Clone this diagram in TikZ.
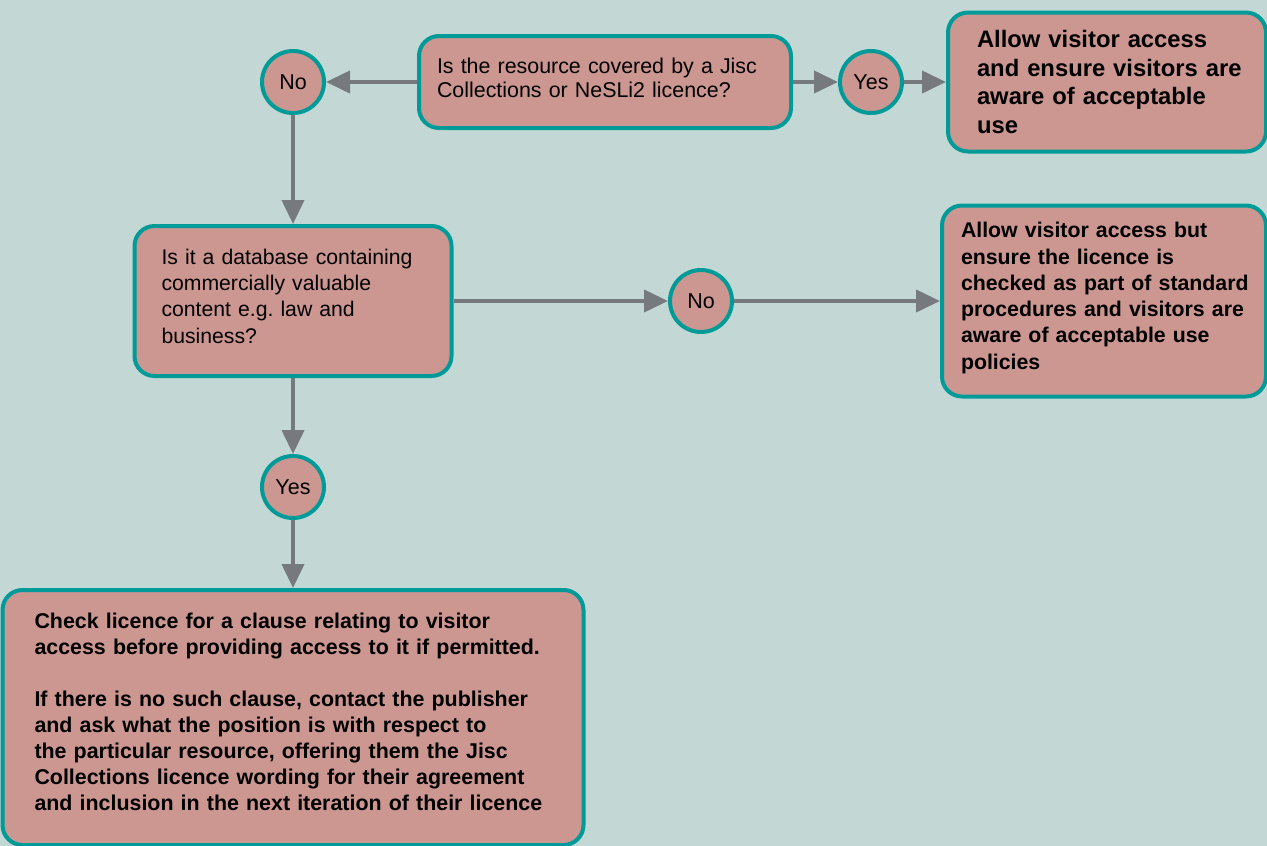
\documentclass[tikz,border=0pt]{standalone}
\usepackage{fontspec}
\setmainfont{Liberation Sans}
\usetikzlibrary{arrows.meta}
\definecolor{bgc}{RGB}{195,216,212}
\definecolor{boxfill}{RGB}{204,150,145}
\definecolor{boxline}{RGB}{0,155,152}
\definecolor{arrc}{RGB}{118,122,126}
\tikzset{
  box/.style={draw=boxline, line width=4pt, fill=boxfill, rounded corners=20pt, align=left, inner ysep=0pt, text=black},
  dec/.style={circle, draw=boxline, line width=4pt, fill=boxfill, minimum size=62pt, inner sep=0pt, font=\fontsize{21.5}{24}\selectfont},
  conn/.style={draw=arrc, line width=4pt, -{Triangle[length=24pt,width=22pt]}}
}
\newcommand{\tline}[1]{\mbox{#1}}
\frenchspacing
\begin{document}
\begin{tikzpicture}[x=1pt,y=-1pt]
\fill[bgc] (0,0) rectangle (1267,846);
\useasboundingbox (0,0) rectangle (1267,846);

\node[box, text width=336pt, inner xsep=18pt, minimum height=92pt, font=\fontsize{21.4}{24}\selectfont\frenchspacing] (q1) at (605,82)
  {\tline{Is the resource covered by a Jisc}\\\tline{Collections or NeSLi2 licence?}\par\vspace{8pt}};
\node[dec] (no1) at (293,82) {No};
\node[dec] (yes1) at (871,82) {Yes};
\node[box, text width=260pt, inner xsep=29pt, minimum height=139pt, font=\bfseries\fontsize{23.8}{28.7}\selectfont] (a1) at (1107,82)
  {\tline{Allow visitor access}\\\tline{and ensure visitors are}\\\tline{aware of acceptable}\\\tline{use}};

\node[box, text width=263pt, inner xsep=27pt, minimum height=150pt, font=\fontsize{21.2}{26.3}\selectfont\frenchspacing] (q2) at (293,301)
  {\tline{Is it a database containing}\\\tline{commercially valuable}\\\tline{content e.g. law and}\\\tline{business?}\par\vspace{10pt}};
\node[dec] (no2) at (701,301) {No};
\node[box, text width=286pt, inner xsep=19pt, minimum height=191pt, font=\bfseries\fontsize{21.3}{26.3}\selectfont] (a2) at (1104,301)
  {\tline{Allow visitor access but}\\\tline{ensure the licence is}\\\tline{checked as part of standard}\\\tline{procedures and visitors are}\\\tline{aware of acceptable use}\\\tline{policies}\par\vspace{6pt}};

\node[dec] (yes2) at (293,487) {Yes};
\node[box, text width=517pt, inner xsep=32pt, minimum height=255pt, font=\bfseries\fontsize{21.4}{26}\selectfont] (a3) at (293,717.5)
  {\tline{Check licence for a clause relating to visitor}\\\tline{access before providing access to it if permitted.}\\[26pt]\tline{If there is no such clause, contact the publisher}\\\tline{and ask what the position is with respect to}\\\tline{the particular resource, offering them the Jisc}\\\tline{Collections licence wording for their agreement}\\\tline{and inclusion in the next iteration of their licence}\par\vspace{12pt}};

\draw[conn] (q1.west) -- (no1.east);
\draw[conn] (q1.east) -- (yes1.west);
\draw[conn] (yes1.east) -- (a1.west);
\draw[conn] (no1.south) -- (q2.north);
\draw[conn] (q2.east) -- (no2.west);
\draw[conn] (no2.east) -- (a2.west);
\draw[conn] (q2.south) -- (yes2.north);
\draw[conn] (yes2.south) -- (a3.north);
\end{tikzpicture}
\end{document}
